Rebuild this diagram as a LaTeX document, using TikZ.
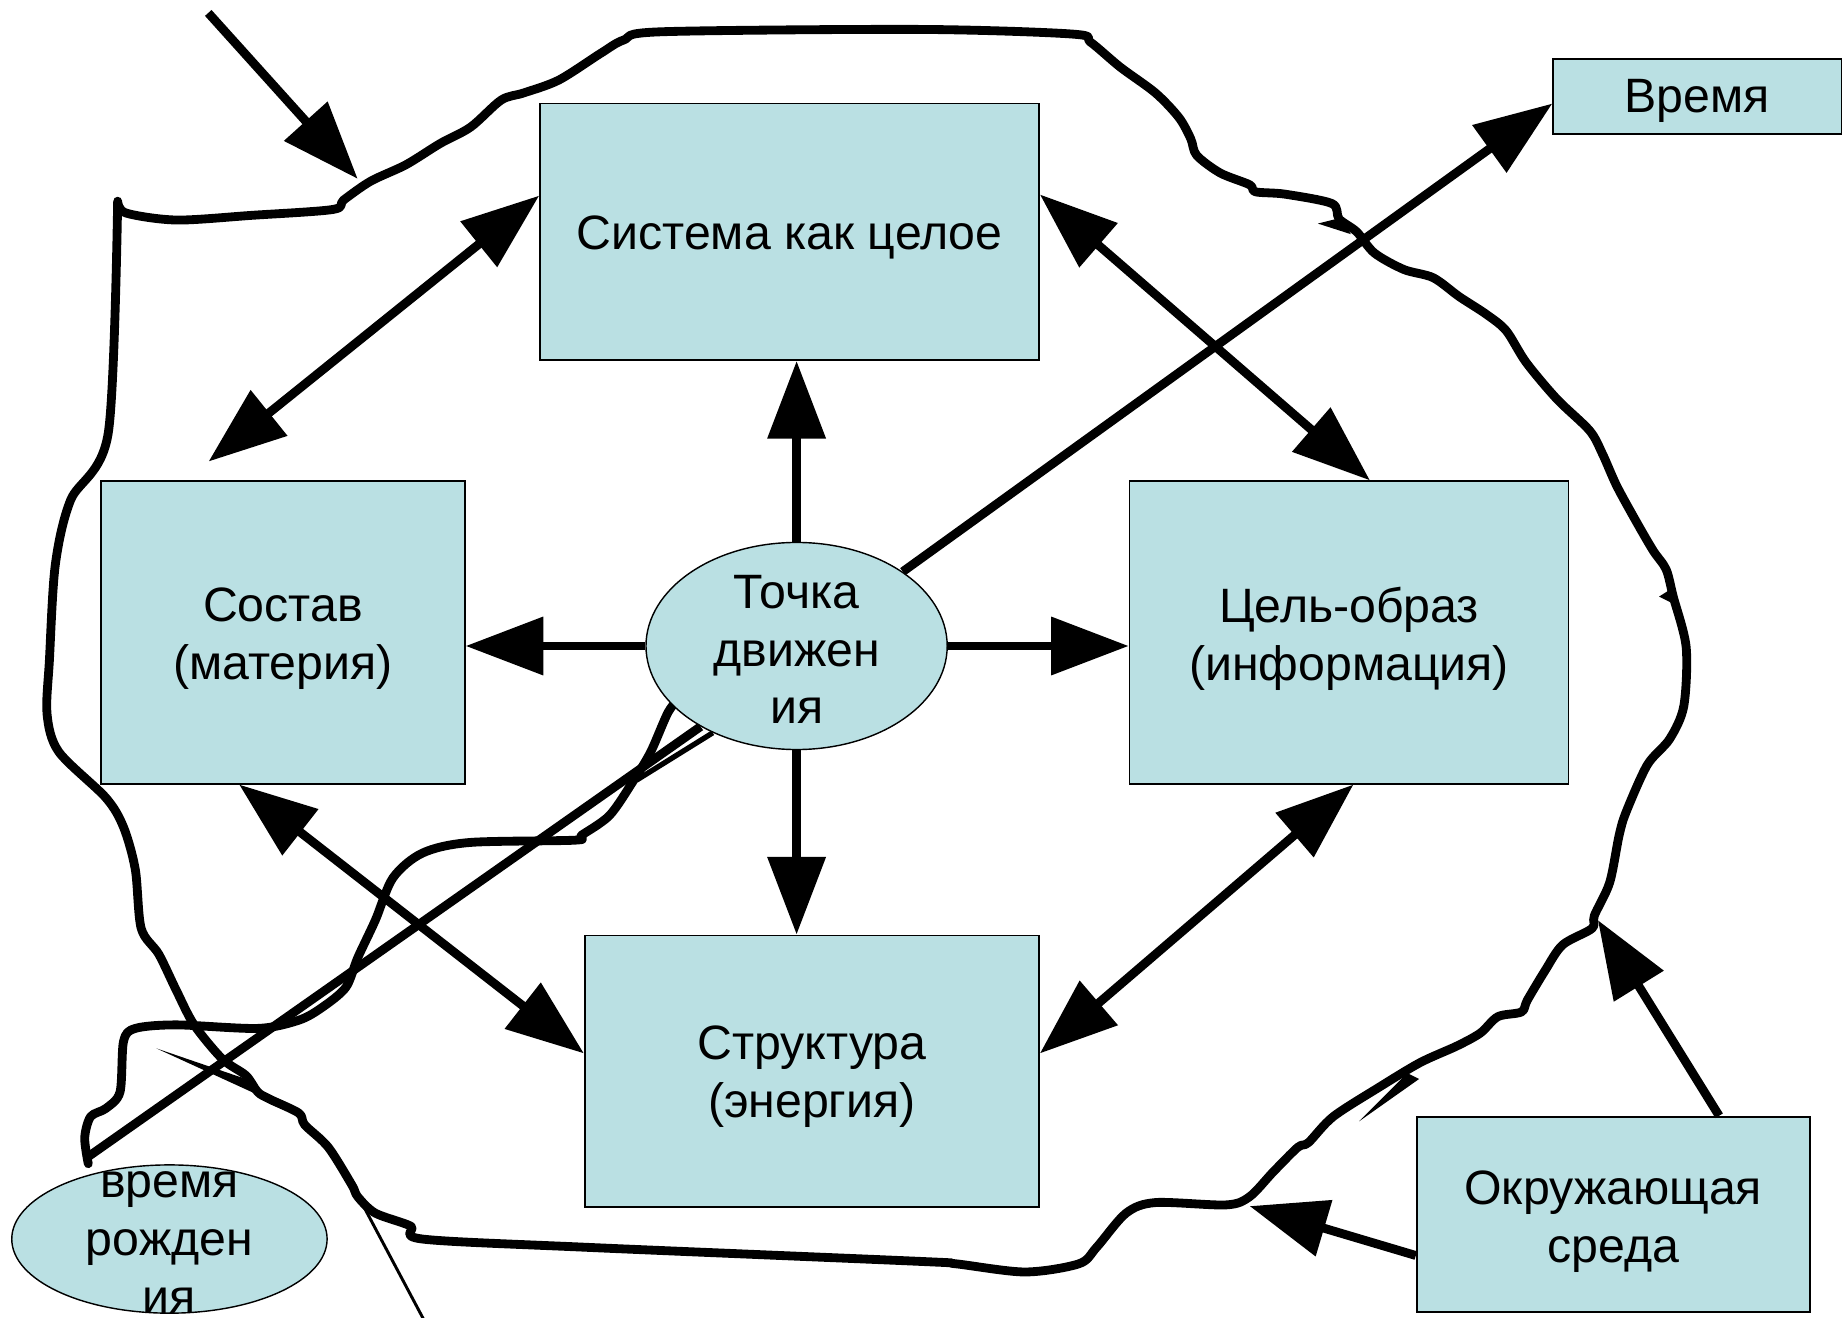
\documentclass[tikz,border=0pt]{standalone}
\usepackage{fontspec}
\setmainfont{Liberation Sans}
\usetikzlibrary{arrows.meta,calc,backgrounds,shapes.geometric}
\definecolor{boxfill}{RGB}{186,224,227}
\begin{document}
\begin{tikzpicture}[x=1pt,y=-1pt,
  every node/.style={font=\fontsize{41}{49}\selectfont},
  box/.style={draw=black,line width=1.5pt,fill=boxfill,inner sep=0pt},
  oval/.style={ellipse,draw=black,line width=1.2pt,fill=boxfill,inner sep=0pt},
  lbl/.style={align=center,inner sep=0pt},
  bigarrow/.style={line width=7.5pt,-{Triangle[length=66pt,width=48pt]}},
  dblarrow/.style={line width=7.5pt,{Triangle[length=66pt,width=48pt]}-{Triangle[length=66pt,width=48pt]}},
  outline/.style={line width=7.5pt,line join=round,line cap=round},
  thinline/.style={line width=2.5pt},
  midline/.style={line width=4.5pt},
  wedge/.style={fill=black,draw=none}]
\useasboundingbox (0,0) rectangle (1568,1120);
% nodes
\node[box,minimum width=424pt,minimum height=218pt] (sys) at (671,197) {};
\node[lbl] (systext) at (671,202) {Система как целое};
\node[box,minimum width=309pt,minimum height=257pt] (sost) at (240.5,537.5) {};
\node[lbl] (sosttext) at (240.5,543) {Состав\\(материя)};
\node[box,minimum width=373pt,minimum height=257pt] (cel) at (1146.5,537.5) {};
\node[lbl] (celtext) at (1146.5,543) {Цель-образ\\(информация)};
\node[box,minimum width=386pt,minimum height=231pt] (str) at (690,910.5) {};
\node[lbl] (strtext) at (690,915) {Структура\\(энергия)};
\node[box,minimum width=245pt,minimum height=64pt] (vrem) at (1442.5,82) {};
\node[lbl] (vremtext) at (1442.5,86) {Время};
\node[box,minimum width=334pt,minimum height=166pt] (okr) at (1371,1032) {};
\node[lbl] (okrtext) at (1371,1038) {Окружающая\\среда};
\node[oval,minimum width=256pt,minimum height=176pt] (toch) at (677,549) {};
\node[lbl] (tochtext) at (677,552) {Точка\\движен\\ия};
\node[oval,minimum width=268pt,minimum height=126pt] (rozh) at (144,1053) {};
\node[lbl] (rozhtext) at (144,1056) {время\\рожден\\ия};
% free ends
\coordinate (tlstart) at (177,11);
\coordinate (tlend) at (304,152);
\coordinate (outpt1) at (1358,782);
\coordinate (outpt2) at (1062,1025);
\coordinate (bayend) at (75,983);
\coordinate (thinend) at (541,663);
\begin{pgfonlayer}{background}
\draw[outline] plot[smooth,tension=0.5] coordinates {
(100,171) (107,181) (150,187) (214,183) (283,178) (292,170) (315,154) (345,140) (374,122) (400,108) (426,85) (445,79) (475,68) (511,45) (530,34) (562,27) (782,25) (912,29) (927,36) (952,57) (982,79) (1002,100) (1012,118) (1017,132) (1037,147) (1062,157) (1067,163) (1092,165) (1132,173) (1138,186) (1153,197) (1168,215) (1193,229) (1218,236) (1240,252) (1263,267) (1280,281) (1297,308) (1323,339) (1351,366) (1362,386) (1374,413) (1391,444) (1405,468) (1416,484) (1422,507) (1433,550) (1431,600) (1419,628) (1400,650) (1382,690) (1376,710) (1368,750) (1355,778) (1353,789) (1328,803) (1313,825) (1298,850) (1293,860) (1273,864) (1258,878) (1238,889) (1207,903) (1172,924) (1133,949) (1112,971) (1103,975) (1082,996) (1062,1017) (1042,1024) (982,1022) (957,1031) (932,1060) (917,1074) (871,1081) (812,1074) (782,1072) (498,1060) (359,1053) (349,1042) (319,1031) (304,1017) (299,1007) (279,975) (259,956) (254,946) (229,934) (219,928) (209,914) (189,900) (165,871) (150,842) (135,811) (120,789) (115,739) (105,703) (90,678) (50,639) (40,607) (42,561) (47,480) (60,425) (92,368) (100,171)};
\draw[outline] plot[smooth,tension=0.5] coordinates {
(580,590) (568,605) (553,639) (538,664) (518,693) (494,710) (489,714) (399,716) (359,725) (334,746) (319,782) (304,814) (294,839) (274,856) (254,867) (219,874) (150,871) (115,874) (105,885) (102,928) (90,942) (77,949) (72,967) (75,989)};
\draw[outline,line cap=butt] (toch.220) -- (bayend);
\draw[midline] (toch.226) -- (thinend);
\fill[wedge] (133,891) -- (209,917) -- (216,929) -- cycle;
\draw[thinline] (302,1012) -- (362,1125);
\fill[wedge] (1120,190) -- (1140,185) -- (1148,199) -- cycle;
\fill[wedge] (1155,953) -- (1196,912) -- (1206,917) -- cycle;
\fill[wedge] (1410,507) -- (1421,500) -- (1424,514) -- cycle;
\end{pgfonlayer}
% arrows
\draw[bigarrow] (tlstart) -- (tlend);
\draw[bigarrow] (toch.35) -- ($(vrem.west)+(0,6)$);
\draw[bigarrow] ($(okr.north)+(90,0)$) -- (outpt1);
\draw[bigarrow] ($(okr.west)+(0,35)$) -- (outpt2);
\draw[bigarrow] (toch.north) -- (toch.north |- sys.south);
\draw[bigarrow] (toch.south) -- (toch.south |- str.north);
\draw[bigarrow] (toch.west) -- (toch.west -| sost.east);
\draw[bigarrow] (toch.east) -- (toch.east -| cel.west);
\draw[dblarrow] ($(sys.north west)+(0,79)$) -- ($(sost.north west)+(92,-16)$);
\draw[dblarrow] ($(sys.north east)+(0,78)$) -- ($(cel.north west)+(205,0)$);
\draw[dblarrow] ($(sost.south west)+(118,0)$) -- ($(str.north west)+(0,101)$);
\draw[dblarrow] ($(cel.south west)+(191,0)$) -- ($(str.north east)+(0,101)$);
\end{tikzpicture}
\end{document}
